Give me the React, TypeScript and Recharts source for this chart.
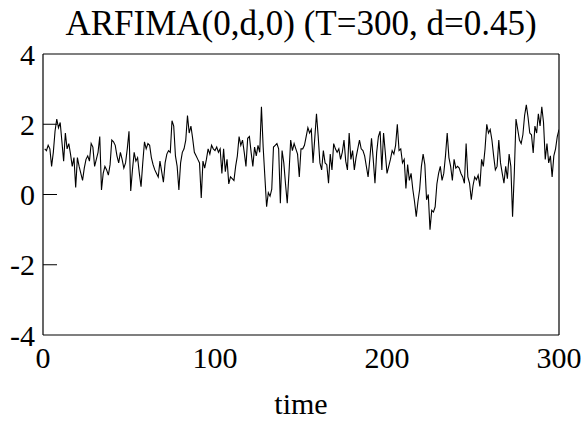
import React from 'react';
import { LineChart, Line, XAxis, YAxis } from 'recharts';

const values: number[] = [
  1.3, 1.25, 1.4, 1.3, 0.8, 1.2, 1.8, 2.15, 1.9, 2.05,
  1.5, 0.95, 1.75, 1.3, 1.45, 1.15, 0.8, 1.05, 0.2, 1.05,
  0.8, 0.6, 0.4, 0.75, 1.0, 1.1, 0.95, 1.45, 1.35, 0.8,
  1.0, 1.2, 1.65, 0.13, 0.6, 0.8, 0.7, 0.55, 0.85, 1.55,
  1.5, 1.4, 1.1, 0.9, 1.2, 1.0, 0.75, 0.9, 1.3, 1.8,
  0.1, 0.7, 1.2, 0.95, 1.05, 0.6, 0.22, 0.9, 1.5, 1.3,
  1.45, 1.4, 1.05, 0.85, 0.7, 0.6, 0.5, 0.95, 0.65, 0.35,
  0.9, 1.15, 1.25, 1.2, 2.1, 1.95, 1.1, 0.8, 0.13, 0.9,
  1.2, 1.3, 1.55, 2.25, 1.75, 1.95, 1.6, 1.2, 1.1, 1.0,
  0.9, -0.1, 0.95, 0.75, 1.0, 1.3, 1.15, 1.4, 1.3, 1.25,
  1.35, 1.2, 1.3, 0.6, 1.3, 0.65, 1.0, 0.3, 0.5, 0.45,
  0.4, 0.8, 1.1, 1.65, 1.4, 1.55, 1.2, 0.8, 1.6, 1.65,
  1.2, 0.8, 1.35, 1.1, 1.4, 1.2, 2.5, 1.35, 0.5, -0.35,
  0.05, -0.05, 0.15, 1.35, 1.4, 1.45, 1.3, -0.25, 1.25, 0.9,
  0.3, -0.25, 0.6, 1.55, 1.25, 1.45, 1.3, 1.15, 0.5, 1.3,
  1.3, 1.4, 1.65, 1.9, 1.75, 1.85, 0.9, 1.6, 2.3, 1.65,
  0.9, 0.7, 1.25, 0.9, 0.85, 0.32, 1.15, 0.7, 1.45, 1.3,
  1.2, 1.3, 1.0, 1.2, 1.55, 0.95, 0.7, 1.75, 1.0, 1.25,
  0.7, 1.05, 1.3, 1.55, 1.3, 1.25, 1.1, 0.8, 0.5, 1.0,
  1.6, 1.0, 0.32, 1.2, 1.65, 1.8, 0.7, 1.75, 1.2, 0.6,
  0.8, 1.0, 1.25, 1.15, 1.4, 2.0, 1.25, 1.3, 0.9, 1.0,
  0.17, 0.85, 0.4, 0.6, 0.15, -0.2, -0.63, -0.2, 0.15, 0.8,
  1.15, 0.85, -0.15, 0.0, -1.0, -0.45, -0.5, -0.35, 0.3, 0.6,
  0.8, 0.4, 0.6, 1.1, 1.75, 1.05, 0.8, 0.4, 1.0, 0.75,
  0.8, 0.75, 0.6, 0.5, 0.32, 1.45, 0.5, 0.32, -0.15, 0.25,
  0.5, 0.42, 0.55, 0.23, 1.0, 0.8, 1.3, 2.0, 1.75, 1.85,
  1.55, 1.1, 0.7, 0.8, 1.55, 0.9, 0.6, 0.32, 0.8, 0.45,
  1.15, 0.8, -0.63, 0.6, 2.15, 1.85, 1.55, 1.45, 1.7, 2.25,
  2.55, 2.2, 1.75, 1.7, 1.18, 1.95, 1.75, 2.3, 1.95, 2.5,
  2.05, 1.0, 1.45, 0.9, 1.1, 0.5, 1.1, 1.3, 1.65, 1.85,
];

const times: number[] = values.map((_, i) => i + 1);
const xTicks = [0, 100, 200, 300];
const yTicks = [-4, -2, 0, 2, 4];
const titleText = 'ARFIMA(0,d,0) (T=300, d=0.45)';
const xLabelText = 'time';

const data = times.map((t, i) => ({ t, v: values[i] }));

const FONT = '"Liberation Serif", "Times New Roman", serif';

const LeftTick = (props: any) => {
  const { x, y, payload } = props;
  const v = payload.value;
  return (
    <g>
      {v !== 4 && v !== -4 ? (
        <line x1={x} x2={x + 14} y1={y} y2={y} stroke="#000" strokeWidth={1} />
      ) : null}
      <text x={x - 8} y={y} textAnchor="end" dominantBaseline="central" fontFamily={FONT} fontSize={30} fill="#000">
        {v}
      </text>
    </g>
  );
};

const RightTick = (props: any) => {
  const { x, y, payload } = props;
  const v = payload.value;
  if (v === 4 || v === -4) return <g />;
  return <line x1={x} x2={x - 14} y1={y} y2={y} stroke="#000" strokeWidth={1} />;
};

const BottomTick = (props: any) => {
  const { x, y, payload } = props;
  return (
    <text x={x} y={y + 33} textAnchor="middle" fontFamily={FONT} fontSize={30} fill="#000">
      {payload.value}
    </text>
  );
};

export default function App() {
  return (
    <div style={{ position: 'absolute', left: 0, top: 0, width: 585, height: 423, background: '#fff' }}>
      <LineChart width={585} height={423} data={data} margin={{ top: 53, right: 25, bottom: 87, left: 42 }}>
        <XAxis
          dataKey="t"
          type="number"
          domain={[0, 300]}
          ticks={xTicks}
          height={1}
          tickSize={0}
          tickMargin={0}
          tickLine={false}
          axisLine={{ stroke: '#000', strokeWidth: 1.2 }}
          tick={BottomTick}
          interval={0}
          allowDataOverflow
        />
        <XAxis
          xAxisId="top"
          orientation="top"
          dataKey="t"
          type="number"
          domain={[0, 300]}
          ticks={xTicks}
          height={1}
          tick={false}
          tickLine={false}
          axisLine={{ stroke: '#000', strokeWidth: 1.2 }}
        />
        <YAxis
          type="number"
          domain={[-4, 4]}
          ticks={yTicks}
          width={1}
          tickSize={0}
          tickMargin={0}
          tickLine={false}
          axisLine={{ stroke: '#000', strokeWidth: 1.2 }}
          tick={LeftTick}
          interval={0}
          allowDataOverflow
        />
        <YAxis
          yAxisId="right"
          orientation="right"
          type="number"
          domain={[-4, 4]}
          ticks={yTicks}
          width={1}
          tickSize={0}
          tickMargin={0}
          tickLine={false}
          axisLine={{ stroke: '#000', strokeWidth: 1.2 }}
          tick={RightTick}
          interval={0}
        />
        <Line
          dataKey="v"
          type="linear"
          stroke="#000"
          strokeWidth={1.1}
          dot={false}
          isAnimationActive={false}
        />
      </LineChart>
      <div
        style={{
          position: 'absolute',
          left: 43,
          width: 516,
          top: 4,
          textAlign: 'center',
          fontFamily: FONT,
          fontSize: 35,
          lineHeight: '40px',
          color: '#000',
          whiteSpace: 'pre',
        }}
      >
        {titleText}
      </div>
      <div
        style={{
          position: 'absolute',
          left: 43,
          width: 516,
          top: 386,
          textAlign: 'center',
          fontFamily: FONT,
          fontSize: 30,
          lineHeight: '36px',
          color: '#000',
        }}
      >
        {xLabelText}
      </div>
    </div>
  );
}
